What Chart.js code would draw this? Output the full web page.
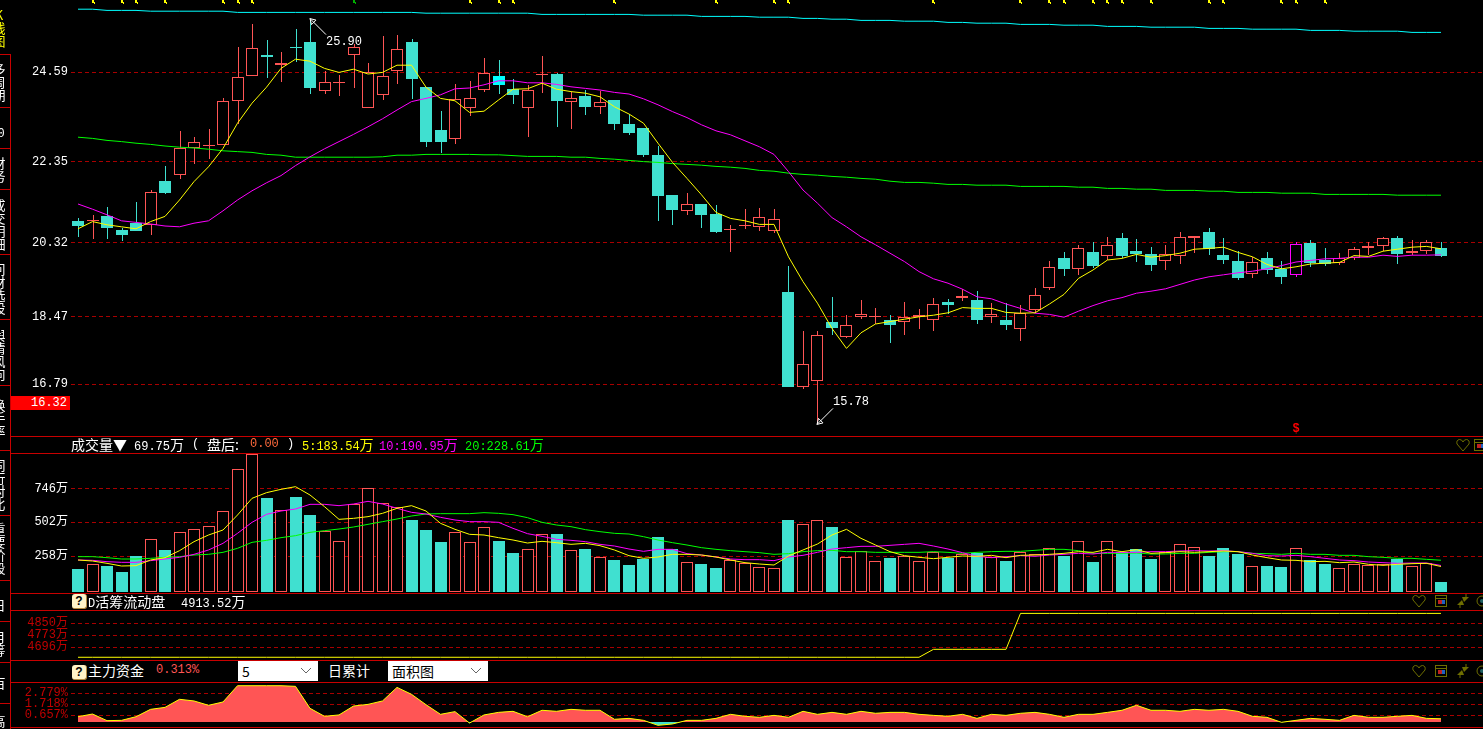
<!DOCTYPE html>
<html>
<head>
<meta charset="utf-8">
<script src="https://cdn.jsdelivr.net/npm/chart.js@4/dist/chart.umd.js"></script>
<style>
html, body { margin: 0; background: #000; width: 1483px; height: 729px; overflow: hidden; }
canvas { position: absolute; left: 0; display: block; }
.t { position: absolute; white-space: pre; font: 12px/16px "Liberation Mono", monospace; color: #fff; }
.t span { font: 14px/16px "Noto Sans CJK SC", sans-serif; }
.hl { position: absolute; background: #c80000; height: 1px; }
.vl { position: absolute; background: #c80000; width: 1px; }
.tab { position: absolute; left: -9px; width: 16px; font: 13px/13px "Noto Sans CJK SC", sans-serif; color: #fff; text-align: center; }
.help { position: absolute; left: 72px; width: 14px; height: 14px; border-radius: 3px; background: #fff3c8; border-right: 1px solid #b08a40; border-bottom: 1px solid #b08a40; color: #000; font: bold 12px/14px "Liberation Sans", sans-serif; text-align: center; }
.sel { position: absolute; top: 661px; height: 20px; background: #fff; color: #000; font: 14px/20px "Noto Sans CJK SC", sans-serif; padding-left: 4px; box-sizing: border-box; }
.sel svg { position: absolute; right: 6px; top: 6px; }
svg.ic { position: absolute; }
</style>
</head>
<body>
<canvas id="priceChart" width="1483" height="436" style="top:0"></canvas>
<canvas id="volChart" width="1483" height="139" style="top:454px"></canvas>
<canvas id="liqChart" width="1483" height="49" style="top:611px"></canvas>
<canvas id="fundChart" width="1483" height="44" style="top:683px"></canvas>
<div id="ui"></div>
<script>
// daily candles
const opens = [20.87,20.87,20.99,20.64,20.82,20.77,21.87,22.02,22.69,22.75,22.77,23.87,24.50,25.02,24.77,25.21,25.34,24.12,24.33,25.02,23.70,24.02,24.62,25.34,24.22,23.14,22.91,23.70,24.15,
  24.49,24.17,23.70,24.52,24.54,23.85,23.99,23.72,23.89,23.29,23.19,22.52,21.52,21.12,21.29,21.04,20.65,20.75,20.72,20.62,19.09,16.72,16.87,18.34,17.97,18.47,18.47,18.39,18.35,18.47,18.40,18.84,18.94,18.89,
  18.47,18.39,18.17,18.64,19.20,19.94,19.67,20.09,20.00,20.44,20.12,20.04,19.87,20.00,20.44,20.59,20.02,19.87,19.55,19.94,19.67,19.52,20.32,19.89,19.82,19.95,20.19,20.25,20.44,20.07,20.12,20.19];
const closes = [20.74,20.88,20.69,20.52,20.62,21.58,21.57,22.69,22.83,22.76,23.87,24.46,25.18,24.97,24.82,25.20,24.19,24.33,24.34,25.21,24.58,24.48,25.16,24.42,22.84,22.84,23.91,23.93,24.56,
  24.27,24.02,24.14,24.53,23.87,23.93,23.72,23.83,23.29,23.07,22.52,21.49,21.14,21.28,21.02,20.59,20.66,20.76,20.96,20.91,16.72,17.28,18.01,18.19,18.26,18.53,18.48,18.27,18.46,18.51,18.78,18.77,18.99,18.39,
  18.53,18.27,18.57,19.01,19.71,19.67,20.18,19.74,20.26,19.99,20.04,19.77,20.03,20.46,20.49,20.17,19.89,19.44,19.83,19.64,19.47,20.28,19.81,19.80,19.94,20.16,20.24,20.43,20.04,20.12,20.33,19.99];
const highs = [20.93,21.02,21.22,20.69,21.34,21.64,22.24,23.12,22.97,23.17,23.94,25.22,25.79,25.39,25.09,25.67,25.90,24.61,24.52,25.29,24.82,25.49,25.52,25.42,24.22,23.62,24.29,24.37,24.94,
  24.89,24.42,24.27,24.99,24.57,24.10,24.14,24.12,23.89,23.54,23.19,22.74,21.52,21.57,21.29,21.27,20.77,21.17,21.19,21.17,19.74,18.12,18.12,18.97,18.52,18.89,18.69,18.52,18.84,18.67,18.94,18.92,19.17,19.12,
  18.82,18.81,18.77,19.19,19.87,20.09,20.27,20.34,20.47,20.57,20.42,20.22,20.27,20.59,20.49,20.69,20.44,20.12,19.97,20.09,19.87,20.34,20.39,20.19,20.07,20.22,20.34,20.47,20.49,20.39,20.39,20.34];
const lows = [20.47,20.42,20.42,20.37,20.62,20.52,21.54,21.92,22.29,22.42,22.76,23.29,24.50,24.44,24.34,24.84,24.04,24.04,23.99,24.19,23.70,23.89,24.29,23.92,22.72,22.57,22.79,23.49,24.09,
  24.04,23.79,22.97,24.07,23.22,23.17,23.52,23.54,23.14,23.02,22.47,20.87,20.77,21.02,20.69,20.57,20.09,20.67,20.62,20.57,16.72,16.67,15.78,18.02,17.94,18.42,18.29,17.82,18.02,18.17,18.12,18.54,18.87,18.29,
  18.32,18.14,17.87,18.56,19.14,19.49,19.52,19.69,19.89,19.94,19.84,19.62,19.64,19.79,20.07,20.02,19.79,19.39,19.44,19.54,19.29,19.47,19.72,19.74,19.77,19.89,20.02,20.12,19.79,20.02,20.04,19.97];
const ma5 = [20.67,20.85,20.77,20.72,20.67,20.85,20.98,21.39,21.85,22.22,22.68,23.31,23.81,24.21,24.68,24.91,24.86,24.68,24.58,24.66,24.54,24.58,24.76,24.76,24.21,23.93,23.87,23.58,23.61,
  23.89,24.16,24.17,24.31,24.16,24.10,24.06,23.97,23.72,23.54,23.31,22.81,22.33,21.93,21.52,21.08,20.93,20.87,20.78,20.78,19.97,19.35,18.81,18.18,17.68,18.07,18.29,18.35,18.41,18.47,18.51,18.57,18.70,18.68,
  18.68,18.58,18.56,18.57,18.79,19.03,19.43,19.64,19.89,19.93,20.03,19.96,20.00,20.06,20.16,20.18,20.21,20.08,19.97,19.78,19.67,19.72,19.79,19.81,19.83,20.00,19.98,20.11,20.16,20.21,20.23,20.17];
const ma10 = [21.29,21.16,21.02,20.87,20.83,20.79,20.74,20.72,20.81,20.87,21.12,21.39,21.62,21.82,22.00,22.25,22.47,22.67,22.85,23.03,23.22,23.42,23.64,23.85,23.93,24.02,24.17,24.19,24.27,
  24.37,24.37,24.32,24.32,24.28,24.22,24.18,24.14,24.08,24.04,23.92,23.77,23.60,23.45,23.27,23.12,23.02,22.87,22.72,22.53,22.10,21.64,21.31,20.95,20.72,20.47,20.27,20.06,19.85,19.60,19.42,19.31,19.16,18.97,
  18.92,18.79,18.68,18.56,18.53,18.46,18.61,18.75,18.87,18.95,19.06,19.11,19.17,19.28,19.39,19.47,19.52,19.57,19.61,19.67,19.75,19.84,19.88,19.92,19.93,19.96,19.96,20.01,19.98,20.01,20.01,20.02];
const maGreen = [22.96,22.93,22.88,22.85,22.81,22.78,22.74,22.71,22.69,22.66,22.62,22.60,22.58,22.53,22.51,22.46,22.46,22.46,22.46,22.46,22.46,22.47,22.51,22.51,22.53,22.53,22.53,22.53,22.52,
  22.52,22.50,22.48,22.48,22.48,22.46,22.46,22.43,22.41,22.38,22.35,22.33,22.30,22.28,22.26,22.23,22.21,22.18,22.13,22.11,22.06,22.03,22.01,21.98,21.96,21.93,21.91,21.86,21.83,21.83,21.81,21.78,21.78,21.76,
  21.76,21.76,21.73,21.73,21.73,21.73,21.71,21.71,21.68,21.68,21.66,21.66,21.63,21.63,21.63,21.61,21.61,21.58,21.58,21.58,21.56,21.56,21.56,21.53,21.53,21.53,21.53,21.53,21.51,21.51,21.51,21.51];
const maCyan = [26.16,26.16,26.13,26.13,26.13,26.11,26.11,26.11,26.11,26.11,26.11,26.08,26.08,26.08,26.08,26.08,26.08,26.08,26.08,26.08,26.08,26.08,26.08,26.08,26.06,26.06,26.06,26.06,26.06,
  26.06,26.06,26.06,26.03,26.03,26.03,26.03,26.03,26.03,26.03,26.01,26.01,26.01,26.01,25.98,25.98,25.98,25.98,25.96,25.96,25.96,25.93,25.93,25.91,25.91,25.88,25.88,25.88,25.86,25.86,25.86,25.83,25.83,25.81,
  25.81,25.81,25.78,25.78,25.78,25.76,25.76,25.76,25.73,25.73,25.73,25.71,25.71,25.71,25.71,25.68,25.68,25.68,25.66,25.66,25.66,25.66,25.63,25.63,25.63,25.61,25.61,25.61,25.61,25.58,25.58,25.58];
const priceTicks = [24.59, 22.35, 20.32, 18.47, 16.79];

// volume in 万
const volumes = [165.6,199.2,187.2,144,259.2,379.2,302.4,429.6,451.2,472.8,580.8,883.2,991.2,676.8,588,684,554.4,441.6,364.8,631.2,746.4,638.4,612,516,446.4,360,429.6,357.6,465.6,
  367.2,280.8,307.2,415.2,417.6,300,309.6,249.6,230.4,194.4,237.6,396,309.6,213.6,201.6,175.2,228,206.4,177.6,170.4,518.4,487.2,516,468,252,292.8,220.8,247.2,261.6,220.8,285.6,242.4,271.2,280.8,
  249.6,223.2,290.4,271.2,314.4,259.2,364.8,216,364.8,285.6,309.6,237.6,285.6,343.2,321.6,259.2,316.8,273.6,184.8,187.2,180,314.4,228,201.6,170.4,199.2,192,199.2,237.6,184.8,208.8,69.75];
const volMa5 = [230.4,223.2,206.4,187.2,189.6,230.4,247.2,297.6,362.4,410.4,446.4,554.4,674.4,715.2,739.2,758.4,698.4,614.4,523.2,530.4,542.4,566.4,602.4,621.6,583.2,494.4,451.2,415.2,410.4,
  391.2,374.4,352.8,364.8,355.2,343.2,350.4,333.6,302.4,261.6,242.4,252,271.2,271.2,266.4,252,230.4,211.2,201.6,194.4,259.2,302.4,345.6,410.4,451.2,386.4,338.4,290.4,261.6,249.6,240,249.6,259.2,256.8,
  264,247.2,264,266.4,271.2,278.4,290.4,285.6,307.2,290.4,304.8,278.4,283.2,290.4,285.6,290.4,295.2,290.4,266.4,247.2,230.4,228,218.4,220.8,211.2,216,199.2,192,199.2,204,206.4,183.54];
const volMa10 = [230.4,228,218.4,213.6,213.6,225.6,237.6,249.6,271.2,302.4,350.4,422.4,501.6,559.2,583.2,597.6,631.2,631.2,621.6,633.6,652.8,633.6,602.4,573.6,561.6,537.6,518.4,506.4,506.4,
  501.6,458.4,420,400.8,379.2,372,362.4,343.2,331.2,309.6,292.8,307.2,307.2,276,266.4,252,237.6,232.8,232.8,225.6,252,264,285.6,309.6,319.2,328.8,328.8,336,343.2,350.4,331.2,309.6,283.2,256.8,
  247.2,254.4,261.6,256.8,266.4,271.2,278.4,273.6,285.6,285.6,285.6,290.4,290.4,295.2,297.6,295.2,297.6,290.4,278.4,261.6,259.2,264,254.4,242.4,230.4,225.6,216,211.2,206.4,208.8,208.8,190.95];
const volMa20 = [254.4,254.4,247.2,237.6,237.6,242.4,249.6,254.4,266.4,271.2,285.6,314.4,357.6,372,391.2,405.6,429.6,441.6,453.6,468,487.2,506.4,525.6,547.2,561.6,564,564,564,571.2,
  566.4,556.8,535.2,501.6,482.4,470.4,448.8,434.4,422.4,417.6,398.4,374.4,355.2,338.4,319.2,307.2,297.6,290.4,283.2,271.2,276,290.4,297.6,300,290.4,290.4,285.6,285.6,285.6,285.6,290.4,285.6,278.4,285.6,
  290.4,292.8,292.8,300,307.2,307.2,297.6,278.4,278.4,278.4,280.8,273.6,273.6,278.4,278.4,285.6,290.4,290.4,278.4,276,271.2,278.4,271.2,271.2,264,264,254.4,249.6,242.4,242.4,235.2,228.61];
const volTicks = [746, 502, 258];

// D活筹流动盘
const liquidity = [4632,4632,4632,4632,4632,4632,4632,4632,4632,4632,4632,4632,4632,4632,4632,4632,4632,4632,4632,4632,4632,4632,4632,4632,4632,4632,4632,4632,4632,
  4632,4632,4632,4632,4632,4632,4632,4632,4632,4632,4632,4632,4632,4632,4632,4632,4632,4632,4632,4632,4632,4632,4632,4632,4632,4632,4632,4632,4632,4632,4683,4683,4683,4683,
  4683,4683,4913.52,4913.52,4913.52,4913.52,4913.52,4913.52,4913.52,4913.52,4913.52,4913.52,4913.52,4913.52,4913.52,4913.52,4913.52,4913.52,4913.52,4913.52,4913.52,4913.52,4913.52,4913.52,4913.52,4913.52,4913.52,4913.52,4913.52,4913.52,4913.52,4913.52];
const liqTicks = [4850, 4773, 4696];

// 主力资金 %
const fundPct = [0.51,0.77,0.13,0.16,0.51,1.22,1.41,2.19,2.03,1.61,1.93,3.50,3.50,3.50,3.50,3.44,1.32,0.55,0.68,1.54,1.70,2.03,3.34,2.67,1.67,0.74,1.00,-0.10,0.68,
  0.93,1.03,0.51,1.13,1.03,1.22,1.13,1.13,0.26,0.35,0.16,-0.32,-0.19,0.16,0.16,0.35,0.74,0.55,0.45,0.64,0.45,1.03,0.74,0.93,0.74,1.03,0.84,0.93,0.93,0.74,0.64,0.55,0.74,0.35,
  0.74,0.64,0.84,0.93,0.74,0.45,0.74,0.74,0.93,1.13,1.61,1.13,1.13,1.03,1.22,1.13,1.22,1.03,0.55,0.45,-0.03,0.16,0.35,0.26,0.16,0.64,0.45,0.45,0.55,0.64,0.35,0.313];
const fundTicks = [2.779, 1.718, 0.657];

// small signal marks along the top edge, by candle index
const topMarks = [1,3,4,6,10,11,12,27,29,30,37,44,48,49,59,65,67,68,70,71,72,74,78,79,83,84,86];
const topMarksGreen = [19];

const TURQ = '#40e0d0', RED = '#ff5555', GRID = '#a80000', DARKRED = '#c00000';
const MONO = '"Liberation Mono","Noto Sans CJK SC",monospace';
const idx = opens.map((_, i) => i);
const xy = arr => arr.map((v, i) => ({ x: i, y: v }));
const isUp = i => closes[i] >= opens[i];

// candle columns are on whole pixels in the reference, keep them crisp
const snapBars = {
  id: 'snapBars',
  afterDatasetsUpdate(chart) {
    chart.getSortedVisibleDatasetMetas().forEach(meta => {
      if (meta.type !== 'bar') return;
      const thin = meta.controller.getDataset().barThickness === 1;
      meta.data.forEach(b => {
        b.x = Math.round(b.x) + (thin ? 0.5 : 0);
        b.y = Math.round(b.y);
        b.base = Math.round(b.base);
        if (b.base - b.y < 1) b.base = b.y + 1;
        b.height = b.base - b.y;
      });
    });
  }
};

function line(data, color, order, width) {
  return { type: 'line', data: xy(data), borderColor: color, borderWidth: width || 1, pointRadius: 0, tension: 0, order: order };
}

function panelOptions(min, max, ticks, fmt, color) {
  return {
    responsive: false,
    animation: false,
    devicePixelRatio: 1,
    layout: { padding: 0 },
    plugins: { legend: { display: false }, tooltip: { enabled: false } },
    scales: {
      x: { type: 'linear', display: false, offset: false, min: -0.483, max: 96.897 },
      y: {
        min: min, max: max,
        afterFit: s => { s.width = 71; s.paddingTop = 0; s.paddingBottom = 0; },
        afterBuildTicks: s => { s.ticks = ticks.map(v => ({ value: v })); },
        border: { display: false, dash: [4, 3] },
        grid: { color: GRID, drawTicks: false, lineWidth: 1 },
        ticks: { color: color, padding: 3, autoSkip: false, font: { family: MONO, size: 12 }, callback: fmt }
      }
    }
  };
}

function arrowNote(ctx, x, y, dir, label) {
  // dir -1: arrow points up at a high, 1: points down at a low
  const s = -dir;
  ctx.save();
  ctx.strokeStyle = '#fff';
  ctx.fillStyle = '#fff';
  ctx.lineWidth = 1;
  ctx.beginPath();
  ctx.moveTo(x, y); ctx.lineTo(x + 16, y + s * 16); ctx.stroke();
  ctx.beginPath();
  ctx.moveTo(x, y); ctx.lineTo(x + 6, y + s * 1.5); ctx.lineTo(x + 1.5, y + s * 6); ctx.closePath(); ctx.stroke();
  ctx.font = '12px ' + MONO;
  ctx.textBaseline = 'middle';
  ctx.fillText(label, x + 16, y + s * 23);
  ctx.restore();
}

const priceNotes = {
  id: 'priceNotes',
  afterDraw(chart) {
    const { ctx, scales: { x, y } } = chart;
    const hi = highs.indexOf(Math.max(...highs)), lo = lows.indexOf(Math.min(...lows));
    arrowNote(ctx, Math.round(x.getPixelForValue(hi)), y.getPixelForValue(highs[hi]) - 1, -1, highs[hi].toFixed(2));
    arrowNote(ctx, Math.round(x.getPixelForValue(lo)), y.getPixelForValue(lows[lo]), 1, lows[lo].toFixed(2));
    // signal ticks clipped by the top edge
    ctx.save();
    [[topMarks, '#ffff00'], [topMarksGreen, '#00b000']].forEach(([list, c]) => {
      ctx.fillStyle = c;
      list.forEach(i => {
        const px = Math.round(x.getPixelForValue(i));
        ctx.fillRect(px - 1, 0, 2, 3);
        ctx.fillRect(px + 1, 2, 1, 2);
      });
    });
    // $ marker under the highlighted candle
    ctx.fillStyle = '#ff0000';
    ctx.font = 'bold 12px ' + MONO;
    ctx.textAlign = 'center';
    ctx.textBaseline = 'middle';
    ctx.fillText('$', Math.round(x.getPixelForValue(84)), 429);
    ctx.restore();
  }
};

// main candle panel
new Chart(document.getElementById('priceChart'), {
  type: 'bar',
  data: {
    datasets: [
      line(ma5, '#ffff00', 1),
      line(ma10, '#ff00ff', 2),
      line(maGreen, '#00ff00', 3),
      line(maCyan, '#00ffff', 3),
      {
        data: idx.map(i => ({ x: i, y: [Math.min(opens[i], closes[i]), Math.max(opens[i], closes[i])] })),
        barThickness: 12, grouped: false, inflateAmount: 0, borderSkipped: false, borderWidth: 1, order: 4,
        backgroundColor: idx.map(i => isUp(i) ? '#000' : (i === 29 ? '#00ffff' : TURQ)),
        borderColor: idx.map(i => i === 84 ? '#ff00ff' : (isUp(i) ? RED : (i === 29 ? '#00ffff' : TURQ)))
      },
      {
        data: idx.map(i => ({ x: i, y: [lows[i], highs[i]] })),
        barThickness: 1, grouped: false, inflateAmount: 0, borderWidth: 0, order: 5,
        backgroundColor: idx.map(i => i === 84 ? '#ff00ff' : (isUp(i) ? RED : TURQ))
      }
    ]
  },
  options: panelOptions(15.49, 26.39, priceTicks, v => v.toFixed(2), '#fff'),
  plugins: [snapBars, priceNotes]
});

// volume panel
new Chart(document.getElementById('volChart'), {
  type: 'bar',
  data: {
    datasets: [
      line(volMa5, '#ffff00', 1),
      line(volMa10, '#ff00ff', 2),
      line(volMa20, '#00ff00', 3),
      {
        data: xy(volumes),
        barThickness: 12, grouped: false, inflateAmount: 0, borderSkipped: false, borderWidth: 1, order: 4,
        backgroundColor: idx.map(i => isUp(i) ? '#000' : TURQ),
        borderColor: idx.map(i => isUp(i) ? RED : TURQ)
      }
    ]
  },
  options: panelOptions(-7.2, 993.6, volTicks, v => v + '万', '#fff'),
  plugins: [snapBars]
});

// D活筹流动盘 panel
new Chart(document.getElementById('liqChart'), {
  type: 'line',
  data: { datasets: [line(liquidity, '#ffff00', 1)] },
  options: panelOptions(4614.5, 4928.9, liqTicks, v => v + '万', DARKRED)
});

// 主力资金 panel
new Chart(document.getElementById('fundChart'), {
  type: 'line',
  data: {
    datasets: [Object.assign(line(fundPct, '#ffff00', 1), {
      fill: { target: 'origin', above: RED, below: TURQ }
    })]
  },
  options: panelOptions(-0.482, 3.762, fundTicks, v => v.toFixed(3) + '%', DARKRED)
});

// --- terminal chrome around the charts ---
const ui = document.getElementById('ui');
function add(cls, css, html) {
  const d = document.createElement('div');
  d.className = cls;
  d.style.cssText = css;
  if (html !== undefined) d.innerHTML = html;
  ui.appendChild(d);
  return d;
}
function text(x, y, s, color) {
  const html = s.replace(/[\u4e00-\u9fff▼]+:?/g, m => '<span>' + m + '</span>');
  add('t', `left:${x}px;top:${y - 9}px;color:${color || '#fff'}`, html);
}

// panel separators
[436, 453, 593, 610, 660, 682, 727].forEach(y => add('hl', `left:10px;top:${y}px;width:1473px`));
add('vl', 'left:10px;top:54px;height:675px');
[54, 107, 148, 189, 254, 319, 385, 450, 515, 580, 621, 662, 703].forEach(y => add('hl', `left:0;top:${y}px;width:10px`));

// left tab strip, cut off by the window edge as in the reference
[[8, 'K线图', '#ffff00'], [62, '多周期'], [156, '财务'], [198, '成交明细'], [262, '问财选股'],
 [328, '舆情风向'], [398, '换手率'], [458, '同行对比'], [522, '重要阶段'], [598, '日'], [630, '月筹'], [676, '百'], [714, '高']]
  .forEach(([y, s, c]) => add('tab', `top:${y}px;color:${c || '#fff'}`, s.split('').join('<br>')));
text(-17, 135, 'F10');

// last price flag on the axis
add('t', 'left:11px;top:396px;width:56px;height:14px;line-height:14px;background:#ff0000;color:#fff;text-align:right;padding-right:3px', '16.32');

// volume header
text(71, 445, '成交量▼');
text(134, 445, '69.75万');
text(192, 445, '(');
text(207, 445, '盘后:');
text(250, 445, '0.00', '#ff6a3c');
text(287, 445, ')');
text(302, 445, '5:183.54万', '#ffff00');
text(379, 445, '10:190.95万', '#ff00ff');
text(465, 445, '20:228.61万', '#00ff00');

// D活筹 header
add('help', 'top:594px', '?');
text(88, 602, 'D活筹流动盘');
text(181, 602, '4913.52万');

// 主力资金 header
add('help', 'top:665px', '?');
text(88, 671, '主力资金');
text(156, 671, '0.313%', RED);
text(328, 671, '日累计');
const chevron = '<svg width="12" height="8"><path d="M1 1 L6 6 L11 1" fill="none" stroke="#666" stroke-width="1"/></svg>';
add('sel', 'left:238px;width:80px', '5' + chevron);
add('sel', 'left:388px;width:100px', '面积图' + chevron);

// small toolbar icons at the right end of each panel header
const OLIVE = '#6e6e00';
function icon(x, y, body) {
  const s = document.createElementNS('http://www.w3.org/2000/svg', 'svg');
  s.setAttribute('class', 'ic');
  s.setAttribute('width', 14); s.setAttribute('height', 14);
  s.style.left = (x - 7) + 'px'; s.style.top = (y - 7) + 'px';
  s.innerHTML = body;
  ui.appendChild(s);
}
const heart = `<path d="M7 13 L1 6 Q0 2 3.5 1.5 Q6 1.5 7 4 Q8 1.5 10.5 1.5 Q14 2 13 6 Z" fill="none" stroke="${OLIVE}"/>`;
const cal = `<rect x="1.5" y="1.5" width="11" height="11" fill="none" stroke="${OLIVE}"/><line x1="1.5" y1="4.5" x2="12.5" y2="4.5" stroke="${OLIVE}"/><rect x="4" y="6" width="4" height="4" fill="#c02020"/><rect x="8" y="6" width="3" height="4" fill="#2060c0"/>`;
const pins = `<path d="M1 11 L6 6 L8 11 Z M13 3 L8 8 L6 3 Z" fill="${OLIVE}"/><line x1="4" y1="9" x2="4" y2="14" stroke="${OLIVE}"/><line x1="10" y1="0" x2="10" y2="5" stroke="${OLIVE}"/>`;
const ring = `<circle cx="7" cy="7" r="5" fill="none" stroke="${OLIVE}"/><circle cx="7" cy="7" r="2" fill="#206060"/>`;
icon(1463, 445, heart); icon(1480, 445, cal);
[601, 671].forEach(y => { icon(1419, y, heart); icon(1441, y, cal); icon(1463, y, pins); icon(1482, y, ring); });
</script>
</body>
</html>
